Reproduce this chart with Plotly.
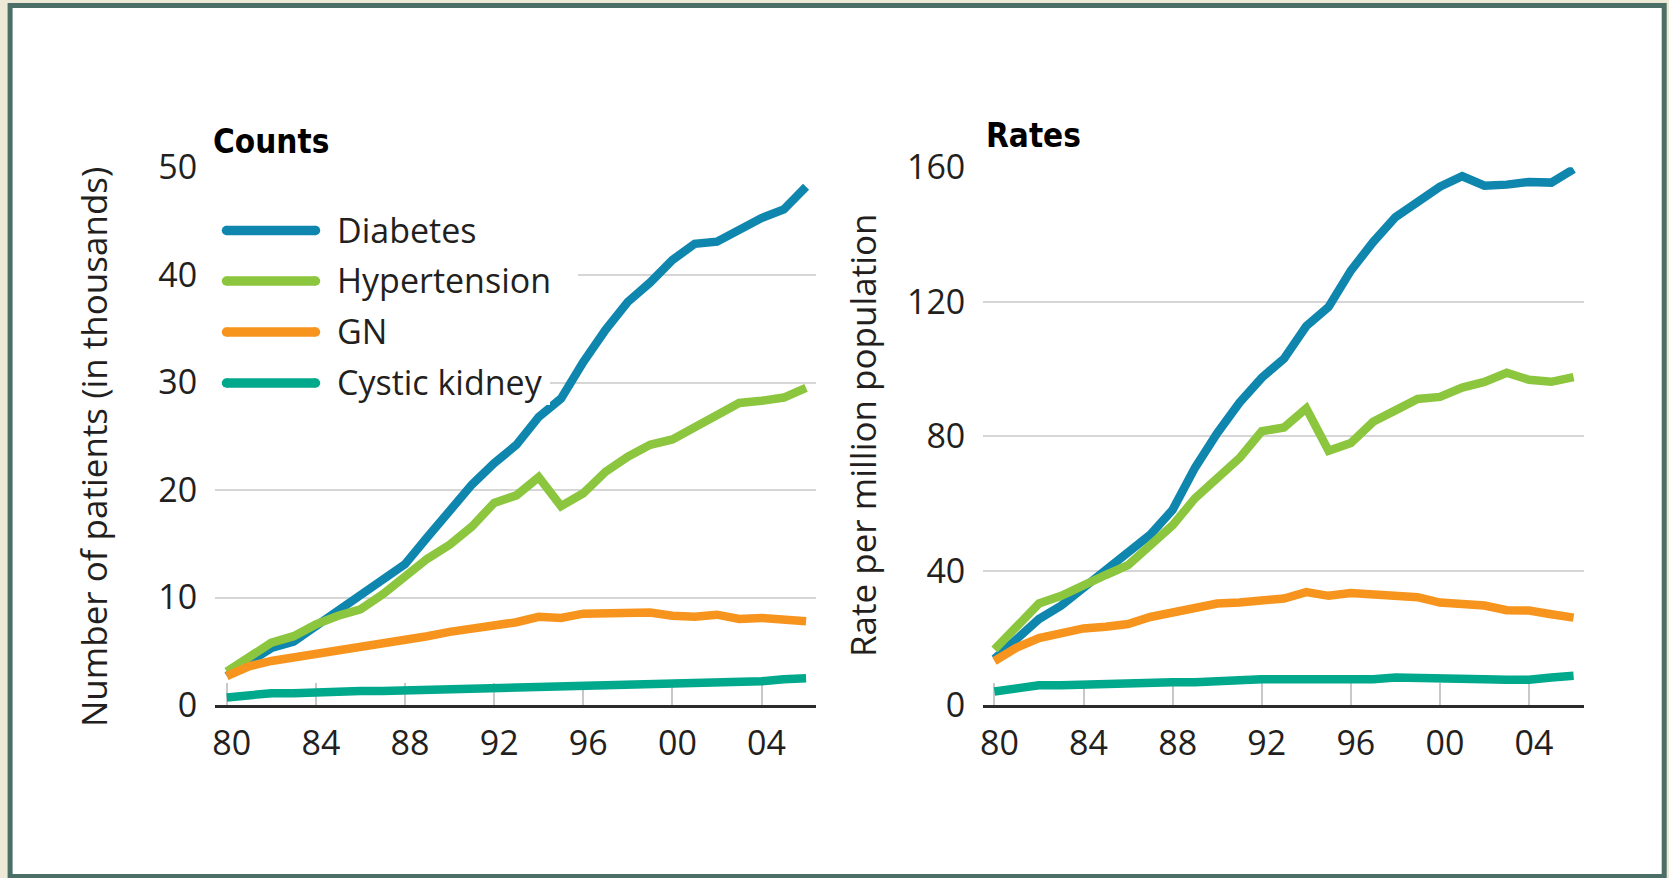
import plotly.graph_objects as go

# ---------------- data ----------------
years = list(range(1980, 2007))
tick_years = [1980, 1984, 1988, 1992, 1996, 2000, 2004]
tick_labels = ["80", "84", "88", "92", "96", "00", "04"]

series_names = ["Diabetes", "Hypertension", "GN", "Cystic kidney"]
series_colors = ["#0F86AE", "#8CC63F", "#F7941D", "#00A88C"]

# Counts (thousands of patients)
counts_diabetes = [2.7, 4.1, 5.3, 5.9, 7.3, 8.8, 10.2, 11.5, 13.1, 15.6, 18.0, 20.5, 22.5, 24.2,
                   26.8, 28.5, 31.9, 34.9, 37.5, 39.3, 41.4, 42.9, 43.1, 44.2, 45.3, 46.1, 48.2]
counts_hypertension = [3.1, 4.4, 5.8, 6.4, 7.5, 8.3, 8.9, 10.3, 11.9, 13.6, 14.9, 16.6, 18.8, 19.5,
                       21.2, 18.5, 19.7, 21.7, 23.1, 24.2, 24.7, 25.9, 26.9, 28.1, 28.3, 28.6, 29.5]
counts_gn = [2.7, 3.6, 4.1, 4.4, 4.7, 5.0, 5.4, 5.8, 6.0, 6.4, 6.8, 7.1, 7.4, 7.7,
             8.2, 8.1, 8.5, 8.5, 8.6, 8.6, 8.3, 8.2, 8.4, 8.0, 8.1, 7.9, 7.8]
counts_cystic = [0.7, 0.9, 1.1, 1.1, 1.2, 1.2, 1.3, 1.3, 1.35, 1.35, 1.5, 1.55, 1.6, 1.7,
                 1.75, 1.8, 1.8, 1.8, 1.95, 2.0, 2.0, 2.1, 2.1, 2.15, 2.2, 2.4, 2.5]

# Rates (per million population)
rates_diabetes = [13.7, 19.4, 25.6, 29.6, 34.7, 39.9, 45.0, 50.7, 58.1, 70.6, 80.9, 90.0, 97.4, 103.1,
                  112.8, 118.5, 129.3, 137.8, 145.2, 149.8, 154.3, 157.4, 154.6, 154.9, 155.7, 155.5, 159.5]
rates_hypertension = [16.5, 23.3, 30.2, 32.5, 35.3, 38.7, 41.6, 47.8, 53.5, 61.5, 67.2, 73.5, 81.5, 82.6,
                      88.3, 75.7, 78.0, 84.3, 87.7, 91.1, 91.7, 94.5, 96.2, 98.9, 96.8, 96.2, 97.6]
rates_gn = [13.1, 17.1, 19.9, 21.4, 22.8, 23.3, 24.1, 26.2, 27.6, 28.7, 30.2, 30.5, 30.8, 31.7,
            33.6, 32.5, 33.3, 32.8, 32.8, 32.1, 30.5, 30.0, 29.6, 28.2, 28.1, 27.0, 26.0]
rates_cystic = [4.0, 5.1, 5.9, 5.9, 6.2, 6.5, 6.7, 6.8, 6.8, 6.8, 7.3, 7.5, 7.7, 7.7,
                7.7, 7.7, 7.3, 7.7, 8.2, 8.2, 7.7, 7.7, 7.7, 7.5, 7.5, 8.2, 8.7]

counts_series = [counts_diabetes, counts_hypertension, counts_gn, counts_cystic]
rates_series = [rates_diabetes, rates_hypertension, rates_gn, rates_cystic]

count_ticks = [0, 10, 20, 30, 40, 50]
rate_ticks = [0, 40, 80, 120, 160]

# ---------------- figure ----------------
W, H = 1669, 878
FONT = "Open Sans, Noto Sans, sans-serif"
TITLE_FONT = "Liberation Sans Narrow, DejaVu Sans Condensed, sans-serif"
TXT = "#231F20"


def px(x):
    return x / W


def py(y):
    return 1 - y / H


fig = go.Figure()
for name, col, vals in zip(series_names, series_colors, counts_series):
    fig.add_trace(go.Scatter(x=years, y=vals, mode="lines", name=name,
                             line=dict(color=col, width=8.5), xaxis="x", yaxis="y",
                             showlegend=False, cliponaxis=False))
for name, col, vals in zip(series_names, series_colors, rates_series):
    fig.add_trace(go.Scatter(x=years, y=vals, mode="lines", name=name,
                             line=dict(color=col, width=8.5), xaxis="x2", yaxis="y2",
                             showlegend=False, cliponaxis=False))

ydom = [py(705), py(167.3)]

xaxis_common = dict(
    tickvals=tick_years, ticktext=tick_labels, ticks="inside", ticklen=22,
    tickwidth=1.5, tickcolor="#C8C8C8", showline=True, linecolor="#2B2B2B",
    linewidth=3, showgrid=False, zeroline=False, layer="below traces",
    tickfont=dict(family=FONT, size=34, color=TXT), ticklabelshift=5,
    ticklabelstandoff=6, fixedrange=True, automargin=False,
)
yaxis_common = dict(
    showgrid=True, gridcolor="#D6D6D6", gridwidth=2, zeroline=False,
    showline=False, ticks="", tickfont=dict(family=FONT, size=34, color=TXT),
    ticklabelstandoff=17, fixedrange=True, automargin=False,
)

fig.update_layout(
    width=W, height=H, autosize=False,
    margin=dict(l=0, r=0, t=0, b=0, pad=0, autoexpand=False),
    paper_bgcolor="#ECE9D6",
    plot_bgcolor="rgba(0,0,0,0)",
    showlegend=False,
    xaxis=dict(domain=[px(215.2), px(816.1)], range=[1979.48, 2006.45], anchor="y", **xaxis_common),
    yaxis=dict(domain=ydom, range=[0, 50.02], tickvals=count_ticks, anchor="x", **yaxis_common),
    xaxis2=dict(domain=[px(983.3), px(1583.6)], range=[1979.5, 2006.45], anchor="y2", **xaxis_common),
    yaxis2=dict(domain=ydom, range=[0, 160.06], tickvals=rate_ticks, anchor="x2", **yaxis_common),
)

shapes = []
# frame
shapes.append(dict(type="rect", xref="paper", yref="paper", x0=px(10.1), x1=px(1664.2),
                   y0=py(876.5), y1=py(5.5), line=dict(color="#4B6E66", width=5),
                   fillcolor="white", layer="below"))
# white legend backing over gridlines (no data passes here)
shapes.append(dict(type="rect", xref="paper", yref="paper",
                   x0=px(212), x1=px(578), y0=py(300), y1=py(195),
                   line=dict(width=0), fillcolor="white", layer="above"))
shapes.append(dict(type="rect", xref="paper", yref="paper",
                   x0=px(212), x1=px(550), y0=py(405), y1=py(300),
                   line=dict(width=0), fillcolor="white", layer="above"))
# legend swatches with rounded ends
leg_y = [230.5, 281, 332, 383]
sw_x0, sw_x1, sw_w = 226.5, 315.5, 9.5
r = sw_w / 2
for col, yy in zip(series_colors, leg_y):
    shapes.append(dict(type="line", xref="paper", yref="paper", x0=px(sw_x0), x1=px(sw_x1),
                       y0=py(yy), y1=py(yy), line=dict(color=col, width=sw_w), layer="above"))
    for cx in (sw_x0, sw_x1):
        shapes.append(dict(type="circle", xref="paper", yref="paper",
                           x0=px(cx - r), x1=px(cx + r), y0=py(yy + r), y1=py(yy - r),
                           line=dict(width=0), fillcolor=col, layer="above"))
fig.update_layout(shapes=shapes)

ann = []
for name, yy in zip(series_names, leg_y):
    ann.append(dict(text=name, xref="paper", yref="paper", x=px(335), y=py(yy - 1),
                    xanchor="left", yanchor="middle", showarrow=False,
                    font=dict(family=FONT, size=34, color=TXT)))
ann.append(dict(text="<b>Counts</b>", xref="paper", yref="paper", x=px(211), y=py(141),
                xanchor="left", yanchor="middle", showarrow=False,
                font=dict(family=TITLE_FONT, size=33, color="#000000")))
ann.append(dict(text="<b>Rates</b>", xref="paper", yref="paper", x=px(984), y=py(135),
                xanchor="left", yanchor="middle", showarrow=False,
                font=dict(family=TITLE_FONT, size=33, color="#000000")))
ann.append(dict(text="Number of patients (in thousands)", xref="paper", yref="paper",
                x=px(93), y=py(447), textangle=-90, xanchor="center", yanchor="middle",
                showarrow=False, font=dict(family=FONT, size=35, color=TXT)))
ann.append(dict(text="Rate per million population", xref="paper", yref="paper",
                x=px(862), y=py(435), textangle=-90, xanchor="center", yanchor="middle",
                showarrow=False, font=dict(family=FONT, size=35, color=TXT)))
fig.update_layout(annotations=ann)

fig.write_html(
    "out.html",
    config={"displayModeBar": False},
    post_script="document.body.style.margin='0';document.body.style.overflow='hidden';",
)
